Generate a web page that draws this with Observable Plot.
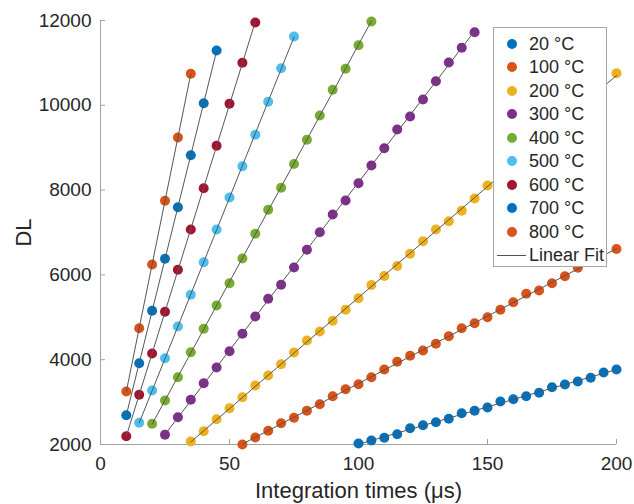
<!DOCTYPE html>
<html>
<head>
<meta charset="utf-8">
<script src="https://cdn.jsdelivr.net/npm/d3@7"></script>
<script src="https://cdn.jsdelivr.net/npm/@observablehq/plot@0.6"></script>
<style>
  body { margin: 0; background: #fff; }
  #wrap { position: relative; width: 634px; height: 504px; font-family: "Liberation Sans", Arial, sans-serif; }
  #legend { position: absolute; left: 493px; top: 27px; width: 112px; height: 238px; background: #fff;
            border: 1px solid #a6a6a6; box-sizing: content-box; }
  .row { position: absolute; left: 0; height: 24px; line-height: 24px; font-size: 18px; color: #262626; white-space: nowrap; }
  .sw { position: absolute; left: 13px; top: 7px; width: 10px; height: 10px; border-radius: 50%; }
  .ln { position: absolute; left: 3px; top: 11.5px; width: 29px; height: 1px; background: #555; }
  .lbl { position: absolute; left: 35px; top: 0; }
</style>
</head>
<body>
<div id="wrap"></div>
<script>
// ---- data ----
const categories = ["20 °C", "100 °C", "200 °C", "300 °C", "400 °C", "500 °C", "600 °C", "700 °C", "800 °C"];
const colors = ["#0072BD", "#D95319", "#EDB120", "#7E2F8E", "#77AC30", "#4DBEEE", "#A2142F", "#0072BD", "#D95319"];
const xTicks = [0, 50, 100, 150, 200];
const yTicks = [2000, 4000, 6000, 8000, 10000, 12000];
const xLabel = "Integration times (μs)";
const yLabel = "DL";

const t20  = [100,105,110,115,120,125,130,135,140,145,150,155,160,165,170,175,180,185,190,195,200];
const dl20 = [2024,2094,2158,2243,2384,2455,2526,2606,2738,2795,2873,3014,3068,3139,3219,3351,3415,3486,3573,3698,3769];

const t100  = [55,60,65,70,75,80,85,90,95,100,105,110,115,120,125,130,135,140,145,150,155,160,165,170,175,180,185,200];
const dl100 = [2000,2165,2323,2502,2630,2795,2950,3139,3304,3422,3587,3769,3950,4092,4217,4375,4554,4743,4861,5002,5177,5356,5554,5632,5804,5969,6167,6610];

const t200  = [35,40,45,50,55,60,65,70,75,80,85,90,95,100,105,110,115,120,125,130,135,140,145,150,200];
const dl200 = [2071,2314,2597,2856,3116,3392,3627,3892,4170,4453,4665,4917,5177,5450,5762,5974,6210,6498,6795,7071,7267,7512,7802,8108,10755];

const t300  = [25,30,35,40,45,50,55,60,65,70,75,80,85,90,95,100,105,110,115,120,125,130,135,140,145];
const dl300 = [2229,2644,3054,3446,3816,4200,4611,5019,5436,5769,6175,6592,7007,7425,7755,8163,8580,8988,9429,9736,10137,10568,11009,11356,11724];

const t400  = [20,25,30,35,40,45,50,55,60,65,70,75,80,85,90,95,100,105];
const dl400 = [2488,3038,3587,4177,4729,5278,5804,6387,6969,7535,8054,8616,9186,9759,10366,10861,11417,11976];

const t500  = [15,20,25,30,35,40,45,50,55,60,65,70,75];
const dl500 = [2512,3274,4035,4783,5531,6300,7071,7825,8564,9304,10083,10875,11623];

const t600  = [10,15,20,25,30,35,40,45,50,55,60];
const dl600 = [2196,3172,4146,5130,6120,7071,8045,9045,10035,11002,11953];

const t700  = [10,15,20,25,30,35,40,45];
const dl700 = [2691,3917,5153,6380,7597,8823,10050,11292];

const t800  = [10,15,20,25,30,35];
const dl800 = [3250,4743,6245,7748,9241,10743];

const seriesT  = [t20, t100, t200, t300, t400, t500, t600, t700, t800];
const seriesDL = [dl20, dl100, dl200, dl300, dl400, dl500, dl600, dl700, dl800];

// ---- build table ----
const data = [];
categories.forEach((c, i) => {
  seriesT[i].forEach((t, j) => data.push({series: c, t, dl: seriesDL[i][j]}));
});

const W = 634, H = 504, mL = 100, mR = 18, mT = 20, mB = 60;
const innerW = W - mL - mR, innerH = H - mT - mB;
const axisColor = "#a0a0a0";
const textColor = "#262626";

const chart = Plot.plot({
  width: W, height: H,
  marginLeft: mL, marginRight: mR, marginTop: mT, marginBottom: mB,
  style: {fontFamily: "'Liberation Sans', Arial, sans-serif", fontSize: "19px", color: textColor, background: "#fff"},
  x: {domain: [xTicks[0], xTicks[xTicks.length - 1]]},
  y: {domain: [yTicks[0], yTicks[yTicks.length - 1]]},
  color: {domain: categories, range: colors},
  marks: [
    Plot.ruleX([xTicks[0]], {stroke: axisColor}),
    Plot.ruleY([yTicks[0]], {stroke: axisColor}),
    Plot.tickY(yTicks, {y: d => d, stroke: axisColor, insetRight: innerW - 5}),
    Plot.tickX(xTicks, {x: d => d, stroke: axisColor, insetTop: innerH - 5}),
    Plot.axisX(xTicks, {tickSize: 0, tickPadding: 12, fontSize: 19, fill: textColor, label: null}),
    Plot.axisY(yTicks, {tickSize: 0, tickPadding: 9, fontSize: 19, fill: textColor, tickFormat: d => String(d), label: null}),
    Plot.text([xLabel], {frameAnchor: "bottom", dy: 46, lineAnchor: "middle", textAnchor: "middle", fontSize: 22, fill: textColor}),
    Plot.text([yLabel], {frameAnchor: "left", dx: -77, rotate: -90, lineAnchor: "middle", textAnchor: "middle", fontSize: 22, fill: textColor}),
    Plot.dot(data, {x: "t", y: "dl", fill: "series", r: 5, stroke: null}),
    Plot.linearRegressionY(data, {x: "t", y: "dl", z: "series", stroke: "#555", strokeWidth: 1, ci: 0})
  ]
});

const wrap = document.getElementById("wrap");
wrap.appendChild(chart);

// ---- legend ----
const legend = document.createElement("div");
legend.id = "legend";
const rowH = 23.5, top0 = 3.5;
categories.forEach((c, i) => {
  const row = document.createElement("div");
  row.className = "row";
  row.style.top = (top0 + i * rowH) + "px";
  row.innerHTML = `<span class="sw" style="background:${colors[i]}"></span><span class="lbl">${c}</span>`;
  legend.appendChild(row);
});
const fitRow = document.createElement("div");
fitRow.className = "row";
fitRow.style.top = (top0 + categories.length * rowH) + "px";
fitRow.innerHTML = `<span class="ln"></span><span class="lbl">Linear Fit</span>`;
legend.appendChild(fitRow);
wrap.appendChild(legend);
</script>
</body>
</html>
